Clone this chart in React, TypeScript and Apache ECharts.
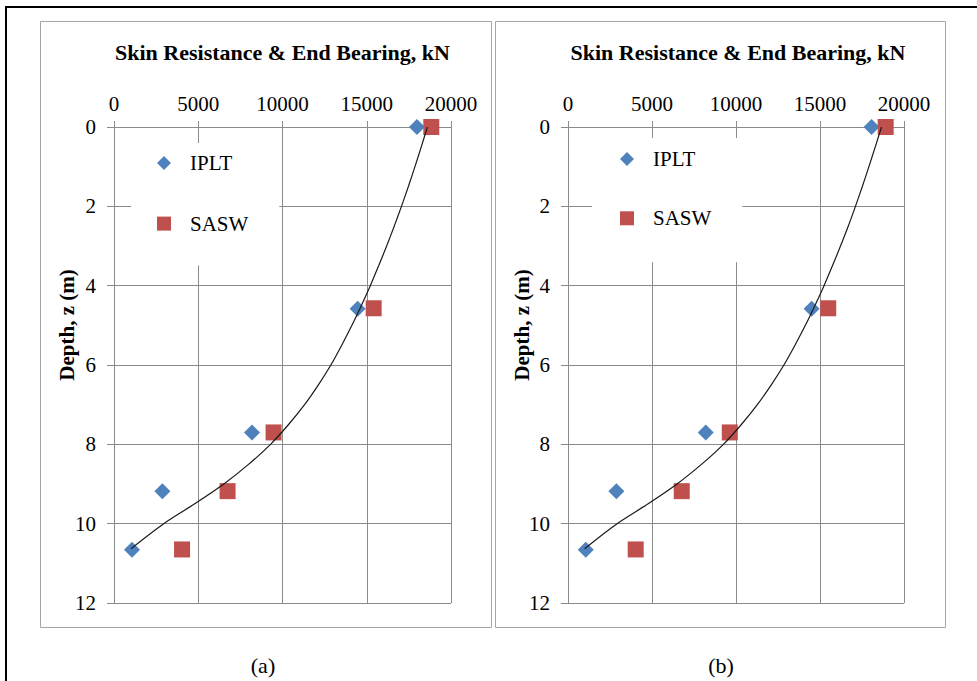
import React, { useEffect, useRef } from "react";
import * as echarts from "echarts";

// ---- data ----
const seriesNames = ["IPLT", "SASW"];

// panel (a)
const ipltDepthA = [0, 4.58, 7.7, 9.18, 10.66];
const ipltForceA = [17980, 14460, 8190, 2870, 1070];
const saswDepthA = [0, 4.57, 7.7, 9.18, 10.65];
const saswForceA = [18830, 15410, 9470, 6740, 4040];

// panel (b)
const ipltDepthB = [0, 4.58, 7.7, 9.18, 10.66];
const ipltForceB = [18070, 14500, 8200, 2880, 1055];
const saswDepthB = [0, 4.57, 7.7, 9.18, 10.65];
const saswForceB = [18910, 15490, 9630, 6770, 4030];

// fitted trend curves (traced)
const trendDepth = [0, 0.5, 1, 1.5, 2, 2.5, 3, 3.5, 4, 4.5, 5, 5.5, 6, 6.5, 7, 7.5, 8, 8.5, 9, 9.5, 10, 10.63];
const trendForceA = [18600, 18235, 17860, 17470, 17060, 16630, 16180, 15705, 15210, 14680, 14120, 13515, 12870, 12130, 11310, 10360, 9290, 8000, 6520, 4790, 2950, 1010];
const trendForceB = [18660, 18290, 17910, 17520, 17110, 16680, 16220, 15740, 15240, 14700, 14130, 13510, 12850, 12100, 11270, 10320, 9250, 7960, 6490, 4770, 2920, 990];

// axes
const forceMin = 0;
const forceMax = 20000;
const forceStep = 5000;
const depthMin = 0;
const depthMax = 12;
const depthStep = 2;

const titleText = "Skin Resistance & End Bearing, kN";
const depthTitle = "Depth, z (m)";
const panelLabels = ["(a)", "(b)"];

const FONT = "'Liberation Serif', 'Times New Roman', serif";
const GRID_COLOR = "#8a8a8a";
const BLUE = "#4F81BD";
const RED = "#C0504D";

function pairs(xs: number[], ys: number[]) {
  return xs.map((x, i) => [x, ys[i]]);
}

export default function App() {
  const ref = useRef<HTMLDivElement>(null);

  useEffect(() => {
    if (!ref.current) return;
    const chart = echarts.init(ref.current, undefined, { renderer: "svg" });

    const grids = [
      { left: 114, top: 127, width: 337, height: 476 },
      { left: 568, top: 127, width: 336, height: 476 },
    ];

    const mkX = (gi: number) => ({
      type: "value",
      gridIndex: gi,
      position: "top",
      min: forceMin,
      max: forceMax,
      interval: forceStep,
      axisLine: { show: true, lineStyle: { color: GRID_COLOR } },
      axisTick: { show: true, length: 6, lineStyle: { color: GRID_COLOR } },
      axisLabel: {
        fontFamily: FONT,
        fontSize: 21,
        color: "#000",
        margin: 13,
        formatter: (v: number) => String(v),
      },
      splitLine: { show: true, lineStyle: { color: GRID_COLOR, width: 1 } },
    });
    const mkY = (gi: number) => ({
      type: "value",
      gridIndex: gi,
      inverse: true,
      min: depthMin,
      max: depthMax,
      interval: depthStep,
      axisLine: { show: true, lineStyle: { color: GRID_COLOR } },
      axisTick: { show: true, length: 7, lineStyle: { color: GRID_COLOR } },
      axisLabel: {
        fontFamily: FONT,
        fontSize: 21,
        color: "#000",
        margin: 18,
        formatter: (v: number) => String(v),
      },
      splitLine: { show: true, lineStyle: { color: GRID_COLOR, width: 1 } },
    });

    const scatter = (name: string, gi: number, data: number[][], symbol: string, color: string) => ({
      name,
      type: "scatter",
      xAxisIndex: gi,
      yAxisIndex: gi,
      data,
      symbol,
      symbolSize: 16,
      itemStyle: { color, opacity: 1 },
      z: 2,
    });
    const trend = (gi: number, data: number[][]) => ({
      name: "trend" + gi,
      type: "line",
      xAxisIndex: gi,
      yAxisIndex: gi,
      data,
      showSymbol: false,
      symbol: "none",
      smooth: 0.3,
      lineStyle: { color: "#1a1a1a", width: 1.2 },
      z: 3,
    });

    const legendBase = {
      data: seriesNames,
      orient: "vertical",
      itemWidth: 14,
      itemHeight: 14,
      backgroundColor: "#fff",
      selectedMode: false,
      textStyle: { fontFamily: FONT, fontSize: 21, color: "#000", lineHeight: 22, padding: [0, 0, 0, 14] },
      z: 5,
    };

    const txt = (text: string, x: number, y: number, size: number, bold: boolean, rotation = 0) => ({
      type: "text",
      x,
      y,
      rotation,
      style: {
        text,
        fontFamily: FONT,
        fontSize: size,
        fontWeight: bold ? "bold" : "normal",
        fill: "#000",
        align: "center",
        verticalAlign: "middle",
      },
      z: 10,
    });

    chart.setOption({
      animation: false,
      backgroundColor: "#fff",
      grid: grids,
      xAxis: [mkX(0), mkX(1)],
      yAxis: [mkY(0), mkY(1)],
      legend: [
        { ...legendBase, left: 131, top: 143, padding: [9, 31, 31, 26], itemGap: 38.6 },
        { ...legendBase, left: 592, top: 138, padding: [10, 31, 33, 28], itemGap: 37.3 },
      ],
      series: [
        scatter("IPLT", 0, pairs(ipltForceA, ipltDepthA), "diamond", BLUE),
        scatter("SASW", 0, pairs(saswForceA, saswDepthA), "rect", RED),
        trend(0, pairs(trendForceA, trendDepth)),
        scatter("IPLT", 1, pairs(ipltForceB, ipltDepthB), "diamond", BLUE),
        scatter("SASW", 1, pairs(saswForceB, saswDepthB), "rect", RED),
        trend(1, pairs(trendForceB, trendDepth)),
      ],
      graphic: [
        {
          type: "rect",
          shape: { x: 6, y: 7, width: 1000, height: 700 },
          style: { fill: "none", stroke: "#000", lineWidth: 2 },
          z: 0,
        },
        {
          type: "rect",
          shape: { x: 40.5, y: 21.5, width: 451, height: 606 },
          style: { fill: "none", stroke: "#a6a6a6", lineWidth: 1 },
          z: 0,
        },
        {
          type: "rect",
          shape: { x: 495.5, y: 21.5, width: 450, height: 606 },
          style: { fill: "none", stroke: "#a6a6a6", lineWidth: 1 },
          z: 0,
        },
        txt(titleText, 282.5, 52, 22, true),
        txt(titleText, 738, 52, 22, true),
        txt(depthTitle, 67, 325, 21, true, Math.PI / 2),
        txt(depthTitle, 522, 325, 21, true, Math.PI / 2),
        txt(panelLabels[0], 263, 665, 22, false),
        txt(panelLabels[1], 721, 665, 22, false),
      ],
    });

    return () => chart.dispose();
  }, []);

  return (
    <div
      ref={ref}
      style={{ position: "fixed", left: 0, top: 0, width: 977, height: 681, background: "#fff" }}
    />
  );
}
